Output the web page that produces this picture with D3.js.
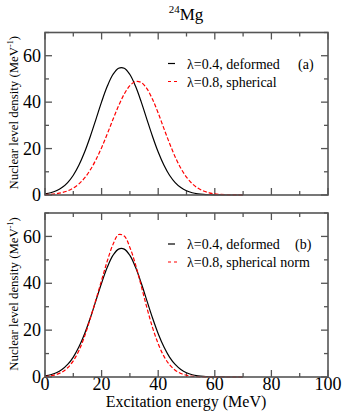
<!DOCTYPE html>
<html>
<head>
<meta charset="utf-8">
<script src="https://cdn.jsdelivr.net/npm/d3@7"></script>
<style>
  body { margin: 0; background: #fff; }
  text { font-family: "Liberation Serif", "Times New Roman", serif; fill: #000; }
  .frame { fill: none; stroke: #555; stroke-width: 1.6px; }
  .tick line { stroke: #555; stroke-width: 1.3px; }
  .curve { fill: none; stroke-width: 1.2px; }
</style>
</head>
<body>
<div id="chart"></div>
<script>
// excitation energy (MeV)
var energy = [0, 2, 4, 6, 8, 10, 12, 14, 16, 18, 20, 22, 24, 26, 28, 30, 32, 34,
              36, 38, 40, 42, 44, 46, 48, 50, 52, 54, 56, 58, 60, 62, 64, 66, 68, 70];

// lambda=0.4, deformed (same curve in both panels)
var deformed = [0.5, 0.97, 1.81, 3.19, 5.35, 8.51, 12.9, 18.5, 25.2, 32.6, 40.1, 46.8, 51.9, 54.6, 54.6, 51.9, 46.8, 40.1,
                32.6, 25.2, 18.5, 12.9, 8.5, 5.35, 3.19, 1.81, 0.97, 0.5, 0.24, 0.11, 0.05, 0.02, 0.01, 0, 0, 0];

// lambda=0.8, spherical (panel a)
var spherical = [0.15, 0.29, 0.56, 1.02, 1.79, 2.99, 4.79, 7.35, 10.8, 15.2, 20.4, 26.3, 32.5, 38.4, 43.5, 47.1, 48.9, 48.5,
                 45.8, 41.2, 35.3, 28.7, 22.3, 16.4, 11.5, 7.72, 4.91, 2.98, 1.72, 0.94, 0.49, 0.24, 0.11, 0.05, 0.02, 0.01];

// lambda=0.8, spherical norm (panel b)
var sphericalNorm = [0.22, 0.5, 1.06, 2.1, 3.93, 6.89, 11.3, 17.4, 25.0, 33.0, 41.3, 49.5, 56.5, 60.8, 60.2, 55.3, 47.9, 38.9,
                     29.6, 21.1, 14.2, 8.9, 5.25, 2.9, 1.5, 0.73, 0.33, 0.14, 0.06, 0.02, 0.01, 0, 0, 0, 0, 0];

var xTicks = [0, 20, 40, 60, 80, 100];
var yTicks = [0, 20, 40, 60];

var width = 342, height = 414;
var left = 45, right = 328;

var svg = d3.select("#chart").append("svg")
    .attr("width", width)
    .attr("height", height);

var x = d3.scaleLinear().domain([0, 100]).range([left, right]);

// title
var title = svg.append("text")
    .attr("x", 186)
    .attr("y", 20)
    .attr("text-anchor", "middle");
title.append("tspan").attr("font-size", "11px").attr("dy", "-7").text("24");
title.append("tspan").attr("font-size", "17px").attr("dy", "7").text("Mg");

function panel(top, bottom, red, labels, tag, showX) {
  var y = d3.scaleLinear().domain([0, 70]).range([bottom, top]);
  var g = svg.append("g");

  var majorX = d3.range(0, 101, 20), minorX = d3.range(10, 100, 20);
  var majorY = d3.range(0, 71, 20), minorY = d3.range(10, 71, 20);

  // inward ticks on all four sides
  g.append("g").attr("class", "tick").selectAll("line")
    .data(majorX.map(function(d) { return [d, 7]; }).concat(minorX.map(function(d) { return [d, 4]; })))
    .enter().append("g")
    .each(function(d) {
      var s = d3.select(this);
      s.append("line").attr("x1", x(d[0])).attr("x2", x(d[0])).attr("y1", bottom).attr("y2", bottom - d[1]);
      s.append("line").attr("x1", x(d[0])).attr("x2", x(d[0])).attr("y1", top).attr("y2", top + d[1]);
    });
  g.append("g").attr("class", "tick").selectAll("line")
    .data(majorY.map(function(d) { return [d, 7]; }).concat(minorY.map(function(d) { return [d, 4]; })))
    .enter().append("g")
    .each(function(d) {
      var s = d3.select(this);
      s.append("line").attr("y1", y(d[0])).attr("y2", y(d[0])).attr("x1", left).attr("x2", left + d[1]);
      s.append("line").attr("y1", y(d[0])).attr("y2", y(d[0])).attr("x1", right).attr("x2", right - d[1]);
    });

  // tick labels
  g.selectAll(".ylab").data(yTicks).enter().append("text")
    .attr("class", "ylab")
    .attr("x", left - 4)
    .attr("y", function(d) { return y(d); })
    .attr("dy", "0.34em")
    .attr("text-anchor", "end")
    .attr("font-size", "18px")
    .text(function(d) { return d; });

  if (showX) {
    g.selectAll(".xlab").data(xTicks).enter().append("text")
      .attr("class", "xlab")
      .attr("x", function(d) { return x(d); })
      .attr("y", bottom + 13)
      .attr("text-anchor", "middle")
      .attr("font-size", "18px")
      .text(function(d) { return d; });
  }

  // y axis title
  var yt = g.append("text")
    .attr("transform", "translate(18," + ((top + bottom) / 2 - 1) + ") rotate(-90)")
    .attr("text-anchor", "middle")
    .attr("font-size", "12.8px");
  yt.append("tspan").text("Nuclear level density (MeV");
  yt.append("tspan").attr("font-size", "8px").attr("dy", "-5").text("-1");
  yt.append("tspan").attr("dy", "5").text(")");

  // curves
  var line = d3.line()
    .x(function(d, i) { return x(energy[i]); })
    .y(function(d) { return y(d); })
    .curve(d3.curveCatmullRom);

  g.append("path").datum(deformed)
    .attr("class", "curve")
    .attr("stroke", "#000")
    .attr("d", line);

  g.append("path").datum(red)
    .attr("class", "curve")
    .attr("stroke", "#ff0000")
    .attr("stroke-dasharray", "4,2")
    .attr("d", line);

  // legend
  var ly1 = top + 31, ly2 = top + 49;
  g.append("line").attr("x1", 168).attr("x2", 175).attr("y1", ly1).attr("y2", ly1)
    .attr("stroke", "#000").attr("stroke-width", 1.2);
  g.append("line").attr("x1", 168).attr("x2", 179).attr("y1", ly2).attr("y2", ly2)
    .attr("stroke", "#ff0000").attr("stroke-width", 1.2).attr("stroke-dasharray", "3,3");
  g.append("text").attr("x", 187).attr("y", ly1 + 5).attr("font-size", "14px").text(labels[0]);
  g.append("text").attr("x", 187).attr("y", ly2 + 5).attr("font-size", "14px").text(labels[1]);
  g.append("text").attr("x", tag == "(a)" ? 298 : 295).attr("y", ly1 + 5).attr("font-size", "14px").text(tag);

  // frame
  g.append("rect").attr("class", "frame")
    .attr("x", left).attr("y", top)
    .attr("width", right - left).attr("height", bottom - top);
}

panel(32.5, 195, spherical, ["\u03bb=0.4, deformed", "\u03bb=0.8, spherical"], "(a)", false);
panel(213, 377, sphericalNorm, ["\u03bb=0.4, deformed", "\u03bb=0.8, spherical norm"], "(b)", true);

svg.append("text")
  .attr("x", 186)
  .attr("y", 407)
  .attr("text-anchor", "middle")
  .attr("font-size", "16px")
  .text("Excitation energy (MeV)");
</script>
</body>
</html>
